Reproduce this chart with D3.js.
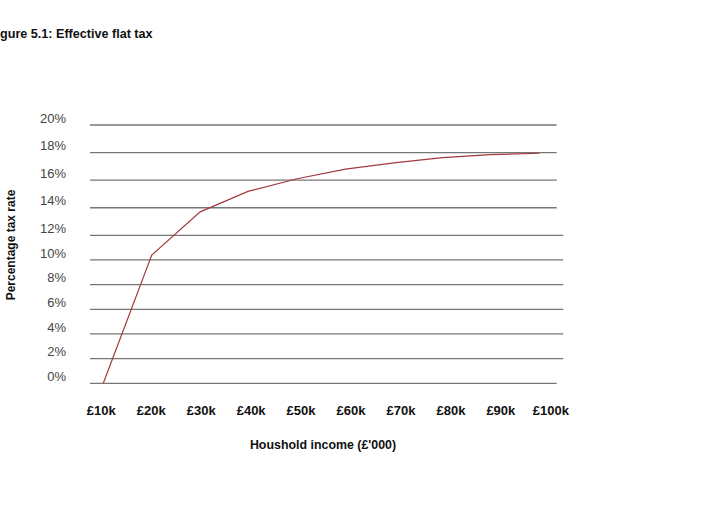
<!DOCTYPE html>
<html>
<head>
<meta charset="utf-8">
<script src="https://cdn.jsdelivr.net/npm/d3@7"></script>
<style>
  body { margin: 0; background: #fff; }
  svg { font-family: "Liberation Sans", Arial, sans-serif; }
</style>
</head>
<body>
<div class="chart"></div>
<script>
// household income in £'000
var incomes = [10, 20, 30, 40, 50, 60, 70, 80, 90, 100];
var incomeLabels = ["£10k", "£20k", "£30k", "£40k", "£50k", "£60k", "£70k", "£80k", "£90k", "£100k"];
// effective tax rate, %
var taxRates = [0, 10.4, 13.7, 15.2, 16.1, 16.8, 17.25, 17.64, 17.85, 17.95];
var rateTicks = [0, 2, 4, 6, 8, 10, 12, 14, 16, 18, 20];

var width = 705, height = 521;

var svg = d3.select(".chart").append("svg")
    .attr("width", width)
    .attr("height", height);

// the original's grid is not evenly spaced, so the y scale has a knee at 12%
var y = d3.scaleLinear()
    .domain([0, 12, 20])
    .range([383.3, 235.3, 125]);

// plotted line and category labels don't quite line up in the original
var xLine = d3.scaleLinear().domain([10, 100]).range([103.3, 539.3]);
var xLabel = d3.scaleLinear().domain([10, 100]).range([101.3, 550.8]);

// gridlines (middle ones run a bit further right)
svg.append("g").attr("class", "grid")
    .selectAll("line")
    .data(rateTicks)
    .enter().append("line")
    .attr("x1", 90)
    .attr("x2", function(d) { return (d > 0 && d <= 12) ? 563.3 : 556.7; })
    .attr("y1", function(d) { return y(d); })
    .attr("y2", function(d) { return y(d); })
    .attr("stroke", "#777")
    .attr("stroke-width", 1.3);

// y tick labels
svg.append("g")
    .selectAll("text")
    .data(rateTicks)
    .enter().append("text")
    .attr("x", 66)
    .attr("y", function(d) { return y(d) - 7; })
    .attr("dy", "0.35em")
    .attr("text-anchor", "end")
    .attr("font-size", 13)
    .attr("fill", "#444")
    .text(function(d) { return d + "%"; });

// x tick labels
svg.append("g")
    .selectAll("text")
    .data(incomes)
    .enter().append("text")
    .attr("x", function(d) { return xLabel(d); })
    .attr("y", 410)
    .attr("dy", "0.35em")
    .attr("text-anchor", "middle")
    .attr("font-size", 13)
    .attr("font-weight", "bold")
    .attr("fill", "#111")
    .text(function(d, i) { return incomeLabels[i]; });

// the line
var line = d3.line()
    .x(function(d, i) { return xLine(incomes[i]); })
    .y(function(d) { return y(d); });

svg.append("path")
    .datum(taxRates)
    .attr("d", line)
    .attr("fill", "none")
    .attr("stroke", "#a23a3c")
    .attr("stroke-width", 1.2);

// axis titles
svg.append("text")
    .attr("x", 323)
    .attr("y", 445)
    .attr("dy", "0.35em")
    .attr("text-anchor", "middle")
    .attr("font-size", 12.4)
    .attr("font-weight", "bold")
    .attr("fill", "#111")
    .text("Houshold income (£'000)");

svg.append("text")
    .attr("transform", "translate(11,245) rotate(-90)")
    .attr("dy", "0.35em")
    .attr("text-anchor", "middle")
    .attr("font-size", 12)
    .attr("font-weight", "bold")
    .attr("fill", "#111")
    .text("Percentage tax rate");

// chart title (cropped on the left in the source)
svg.append("text")
    .attr("x", 0)
    .attr("y", 34)
    .attr("dy", "0.35em")
    .attr("font-size", 12.6)
    .attr("font-weight", "bold")
    .attr("fill", "#111")
    .text("gure 5.1: Effective flat tax");
</script>
</body>
</html>
